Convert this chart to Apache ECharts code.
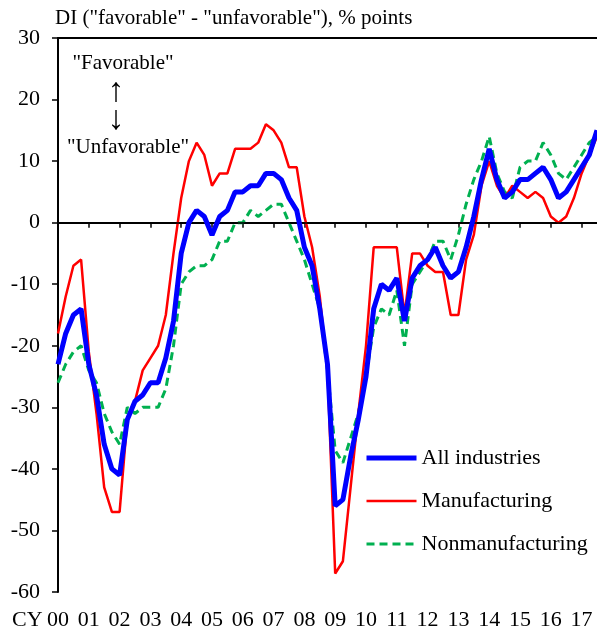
<!DOCTYPE html>
<html>
<head>
<meta charset="utf-8">
<script src="https://cdn.jsdelivr.net/npm/echarts@6/dist/echarts.min.js"></script>
<style>
  html, body { margin: 0; padding: 0; background: #fff; }
  #chart { width: 597px; height: 628px; }
</style>
</head>
<body>
<div id="chart"></div>
<script>
// years on the x axis, each year has 4 quarters; data runs 2000Q1 .. 2017Q3
const years = ['00','01','02','03','04','05','06','07','08','09','10','11','12','13','14','15','16','17'];
const yTicks = [30, 20, 10, 0, -10, -20, -30, -40, -50, -60];

const allIndustries = [
  -23, -18, -15, -14, -23, -28, -36, -40, -41, -32, -29, -28,
  -26, -26, -22, -16, -5, 0, 2, 1, -2, 1, 2, 5,
  5, 6, 6, 8, 8, 7, 4, 2, -4, -7, -14, -23,
  -46, -45, -38, -32, -25, -14, -10, -11, -9, -16, -9, -7,
  -6, -4, -7, -9, -8, -4, 1, 7, 12, 7, 4, 5,
  7, 7, 8, 9, 7, 4, 5, 7, 9, 11, 15
];
const manufacturing = [
  -18, -12, -7, -6, -21, -31, -43, -47, -47, -32, -29, -24,
  -22, -20, -15, -5, 4, 10, 13, 11, 6, 8, 8, 12,
  12, 12, 13, 16, 15, 13, 9, 9, 1, -4, -12, -24,
  -57, -55, -43, -31, -20, -4, -4, -4, -4, -15, -5, -5,
  -7, -8, -8, -15, -15, -6, -2, 6, 10, 6, 4, 6,
  5, 4, 5, 4, 1, 0, 1, 4, 8, 11, 14
];
const nonmanufacturing = [
  -26, -23, -21, -20, -24, -26, -31, -34, -36, -30, -31, -30,
  -30, -30, -27, -20, -10, -8, -7, -7, -6, -3, -3, 0,
  0, 2, 1, 2, 3, 3, 0, -3, -6, -10, -14, -24,
  -37, -39, -35, -31, -25, -17, -14, -15, -11, -20, -10, -8,
  -6, -3, -3, -6, -2, 3, 7, 10, 14, 8, 5, 4,
  9, 10, 10, 13, 11, 8, 7, 9, 11, 13, 14
];

// quarter categories, e.g. "00Q1"
const quarters = [];
years.forEach(y => { for (let q = 1; q <= 4; q++) quarters.push(y + 'Q' + q); });
const cats = quarters.slice(0, allIndustries.length);

const font = '"Liberation Serif", "Times New Roman", serif';
let myChart = echarts.init(document.getElementById('chart'));

myChart.setOption({
  animation: false,
  backgroundColor: '#fff',
  textStyle: { fontFamily: font, color: '#000' },
  grid: { left: 58, right: 0, top: 38, bottom: 36, outerBoundsMode: 'none', containLabel: false },
  xAxis: [
    {
      type: 'category',
      data: cats,
      boundaryGap: false,
      axisLine: { lineStyle: { color: '#000', width: 2 } },
      axisTick: { interval: 3, length: 5, lineStyle: { color: '#000', width: 1.5 } },
      axisLabel: {
        interval: 3,
        margin: 17,
        color: '#000',
        fontFamily: font,
        fontSize: 22,
        formatter: v => v.slice(0, 2)
      },
      splitLine: { show: false }
    },
    {
      type: 'category',
      data: cats,
      boundaryGap: false,
      position: 'top',
      axisLine: { lineStyle: { color: '#000', width: 2 } },
      axisTick: { show: false },
      axisLabel: { show: false }
    }
  ],
  yAxis: {
    type: 'value',
    min: yTicks[yTicks.length - 1],
    max: yTicks[0],
    interval: 10,
    axisLine: { show: true, lineStyle: { color: '#000', width: 2 } },
    axisTick: { show: true, length: 6, lineStyle: { color: '#000', width: 1.5 } },
    axisLabel: { margin: 18, color: '#000', fontFamily: font, fontSize: 22 },
    splitLine: { show: false }
  },
  legend: {
    orient: 'vertical',
    left: 359,
    top: 442,
    itemWidth: 50,
    itemHeight: 14,
    itemGap: 21,
    itemStyle: { opacity: 0 },
    textStyle: { fontFamily: font, fontSize: 22, color: '#000', lineHeight: 22 },
    data: [
      { name: 'All industries', lineStyle: { width: 5 } },
      { name: 'Manufacturing', lineStyle: { width: 2.5 } },
      { name: 'Nonmanufacturing', lineStyle: { width: 3 } }
    ]
  },
  series: [
    {
      name: 'Nonmanufacturing',
      type: 'line',
      data: nonmanufacturing,
      symbol: 'none',
      z: 3,
      lineStyle: { color: '#00B050', width: 3, type: [8, 5] },
      itemStyle: { color: '#00B050' }
    },
    {
      name: 'Manufacturing',
      type: 'line',
      data: manufacturing,
      symbol: 'none',
      z: 4,
      lineStyle: { color: '#FF0000', width: 2.5 },
      itemStyle: { color: '#FF0000' }
    },
    {
      name: 'All industries',
      type: 'line',
      data: allIndustries,
      symbol: 'none',
      z: 5,
      lineStyle: { color: '#0000FF', width: 5 },
      itemStyle: { color: '#0000FF' },
      markLine: {
        silent: true,
        symbol: 'none',
        label: { show: false },
        lineStyle: { color: '#000', width: 1.5, type: 'solid' },
        data: [{ yAxis: 0 }]
      }
    }
  ],
  graphic: [
    { type: 'text', left: 55, top: 8, style: { text: 'DI ("favorable" - "unfavorable"), % points', font: '21px ' + font, fill: '#000' } },
    { type: 'text', x: 123, y: 63, style: { text: '"Favorable"', font: '21px ' + font, fill: '#000', align: 'center', verticalAlign: 'middle' } },
    { type: 'text', x: 116, y: 92, style: { text: '\u2191', font: '34px ' + font, fill: '#000', align: 'center', verticalAlign: 'middle' } },
    { type: 'text', x: 116, y: 120, style: { text: '\u2193', font: '34px ' + font, fill: '#000', align: 'center', verticalAlign: 'middle' } },
    { type: 'text', x: 128, y: 147, style: { text: '"Unfavorable"', font: '21px ' + font, fill: '#000', align: 'center', verticalAlign: 'middle' } },
    { type: 'text', x: 12, y: 620, style: { text: 'CY', font: '22px ' + font, fill: '#000', verticalAlign: 'middle' } }
  ]
});
</script>
</body>
</html>
